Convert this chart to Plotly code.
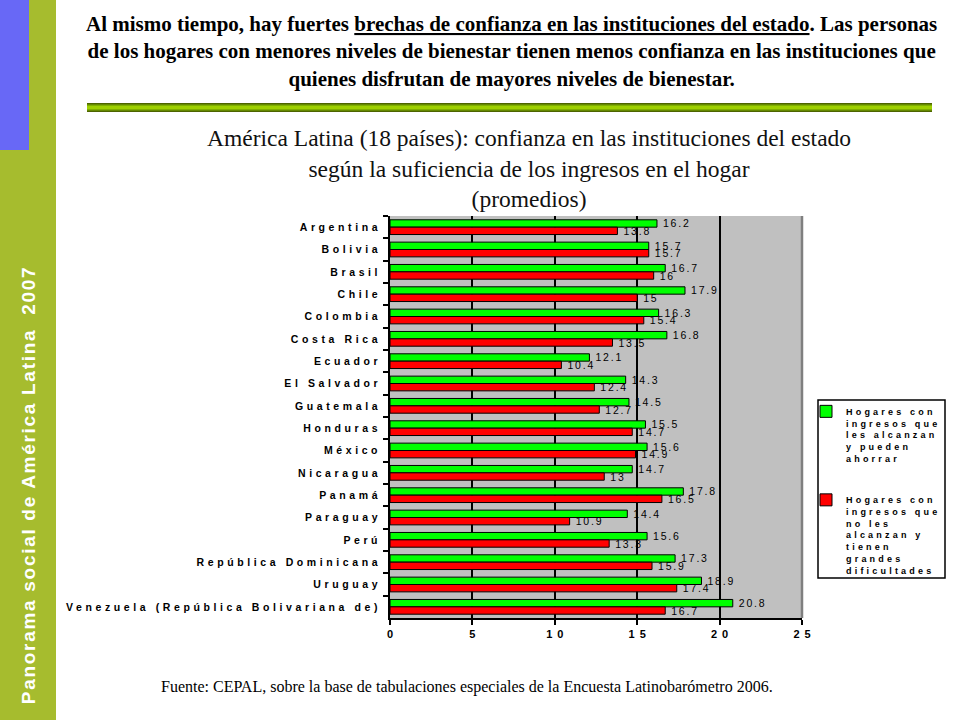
import plotly.graph_objects as go

countries = ["Argentina", "Bolivia", "Brasil", "Chile", "Colombia", "Costa Rica",
             "Ecuador", "El Salvador", "Guatemala", "Honduras", "México", "Nicaragua",
             "Panamá", "Paraguay", "Perú", "República Dominicana", "Uruguay",
             "Venezuela (República Bolivariana de)"]
ahorrar = [16.2, 15.7, 16.7, 17.9, 16.3, 16.8, 12.1, 14.3, 14.5, 15.5, 15.6, 14.7,
           17.8, 14.4, 15.6, 17.3, 18.9, 20.8]
dificultades = [13.8, 15.7, 16, 15, 15.4, 13.5, 10.4, 12.4, 12.7, 14.7, 14.9, 13,
                16.5, 10.9, 13.3, 15.9, 17.4, 16.7]
x_ticks = [0, 5, 10, 15, 20, 25]

name_green = "Hogares con<br>ingresos que<br>les alcanzan<br>y pueden<br>ahorrar"
name_red = "Hogares con<br>ingresos que<br>no les<br>alcanzan y<br>tienen<br>grandes<br>dificultades"

# plot-area pixel geometry
L, R, T, B = 390, 802, 216, 618
W, H = R - L, B - T
def px(x):
    return (x - L) / W
def py(y):
    return (B - y) / H

fig = go.Figure()
fig.add_trace(go.Bar(
    y=countries, x=ahorrar, orientation="h", name=name_green,
    marker=dict(color="#00ff00", line=dict(color="black", width=1)),
    text=[f"{v:g}" for v in ahorrar], textposition="outside",
    textfont=dict(family="Arial, Liberation Sans", size=10.5, color="black"),
    cliponaxis=False, legendgroup="a", hoverinfo="skip"))
fig.add_trace(go.Bar(
    y=countries, x=dificultades, orientation="h", name=name_red,
    marker=dict(color="#ff0000", line=dict(color="black", width=1)),
    text=[f"{v:g}" for v in dificultades], textposition="outside",
    textfont=dict(family="Arial, Liberation Sans", size=10.5, color="black"),
    cliponaxis=False, legendgroup="b", hoverinfo="skip"))

shapes = [
    # left green strip and blue block
    dict(type="rect", xref="paper", yref="paper", x0=px(0), x1=px(56), y0=py(720), y1=py(0),
         fillcolor="#a6bc2e", line=dict(width=0), layer="below"),
    dict(type="rect", xref="paper", yref="paper", x0=px(0), x1=px(29), y0=py(150), y1=py(0),
         fillcolor="#6868f6", line=dict(width=0), layer="below"),
    # separator bar
    dict(type="rect", xref="paper", yref="paper", x0=px(87), x1=px(932), y0=py(112), y1=py(103),
         fillcolor="#4d6400", line=dict(width=0)),
    dict(type="rect", xref="paper", yref="paper", x0=px(87), x1=px(932), y0=py(110.5), y1=py(104.5),
         fillcolor="#7fae00", line=dict(width=0)),
    dict(type="rect", xref="paper", yref="paper", x0=px(87), x1=px(932), y0=py(109), y1=py(106),
         fillcolor="#9ed000", line=dict(width=0)),
    # right border of plot area
    dict(type="line", xref="paper", yref="paper", x0=1, x1=1, y0=0, y1=1,
         line=dict(color="#7f7f7f", width=2.5), layer="above"),
    # legend box
    dict(type="rect", xref="paper", yref="paper", x0=px(818), x1=px(945), y0=py(578), y1=py(400),
         fillcolor="white", line=dict(color="black", width=1.5), layer="above"),
]

header = ("Al mismo tiempo, hay fuertes <u>brechas de confianza en las instituciones del estado</u>. "
          "Las personas<br>de los hogares con menores niveles de bienestar tienen menos confianza "
          "en las instituciones que<br>quienes disfrutan de mayores niveles de bienestar.")
title = ("América Latina (18 países): confianza en las instituciones del estado<br>"
         "según la suficiencia de los ingresos en el hogar<br>(promedios)")
source = "Fuente: CEPAL, sobre la base de tabulaciones especiales de la Encuesta Latinobarómetro 2006."
side = "Panorama social de América Latina  2007"

annotations = [
    dict(text="<b>" + header + "</b>", xref="paper", yref="paper", x=px(511), y=py(51),
         xanchor="center", yanchor="middle", showarrow=False, align="center",
         font=dict(family="Liberation Serif, Times New Roman", size=21, color="black")),
    dict(text=title, xref="paper", yref="paper", x=px(529), y=py(168),
         xanchor="center", yanchor="middle", showarrow=False, align="center",
         font=dict(family="Liberation Serif, Times New Roman", size=23.5, color="#111111")),
    dict(text=source, xref="paper", yref="paper", x=px(467), y=py(687),
         xanchor="center", yanchor="middle", showarrow=False,
         font=dict(family="Liberation Serif, Times New Roman", size=16, color="black")),
    dict(text="<b>" + side + "</b>", xref="paper", yref="paper", x=px(28), y=py(485),
         xanchor="center", yanchor="middle", showarrow=False, textangle=-90,
         font=dict(family="Liberation Sans, Arial", size=19, color="white")),
]

fig.update_layout(
    width=960, height=720,
    margin=dict(l=L, r=960 - R, t=T, b=720 - B, pad=0),
    paper_bgcolor="white", plot_bgcolor="#c0c0c0",
    barmode="group", bargap=0.34, bargroupgap=0,
    showlegend=True,
    legend=dict(x=px(806), y=py(399), xanchor="left", yanchor="top",
                bgcolor="rgba(0,0,0,0)", borderwidth=0, tracegroupgap=27,
                traceorder="grouped", valign="top", itemwidth=30,
                font=dict(family="Liberation Sans, Arial", size=9, color="black", weight="bold")),
    shapes=shapes, annotations=annotations,
    uniformtext=dict(mode=False),
)
fig.update_traces(constraintext="none")
fig.update_xaxes(range=[0, 25], tickvals=x_ticks, showgrid=True, gridcolor="black", gridwidth=2,
                 zeroline=False, showline=True, linecolor="black", linewidth=1.5,
                 ticks="outside", ticklen=5, tickcolor="black", tickwidth=1.5,
                 tickfont=dict(family="Liberation Sans, Arial", size=11, color="black", weight="bold"))
fig.update_yaxes(type="category", categoryorder="array", categoryarray=countries,
                 autorange="reversed", showgrid=False, zeroline=False,
                 showline=True, linecolor="black", linewidth=1.5,
                 ticks="outside", ticklen=5, tickcolor="black", tickwidth=1.5,
                 tickson="boundaries", ticklabelstandoff=5,
                 tickfont=dict(family="Liberation Sans, Arial", size=10.5, color="black", weight="bold"))

post = """
document.body.style.margin = '0';
document.body.style.padding = '0';
var gd = document.getElementById('{plot_id}');
function sp(sel, ls, dxf, filt){
  gd.querySelectorAll(sel).forEach(function(t){
    if (filt && (t.textContent || '').indexOf(filt) !== 0) return;
    t.style.letterSpacing = ls + 'px';
    if (dxf) { var n = (t.textContent || '').length; t.setAttribute('dx', dxf(n, ls).toFixed(1)); }
  });
}
sp('.ytick text', 3.6, null);
sp('.xtick text', 5, function(n, ls){ return ls / 2; });
sp('.legendtext', 3.2, null);
sp('.bartext', 1.8, function(n, ls){ return n * ls / 2 + 3; });
sp('.annotation-text', 1.7, null, 'Panorama');
gd.querySelectorAll('.legend [clip-path]').forEach(function(e){ e.removeAttribute('clip-path'); });
"""
fig.write_html("out.html", post_script=post, config={"displayModeBar": False})
